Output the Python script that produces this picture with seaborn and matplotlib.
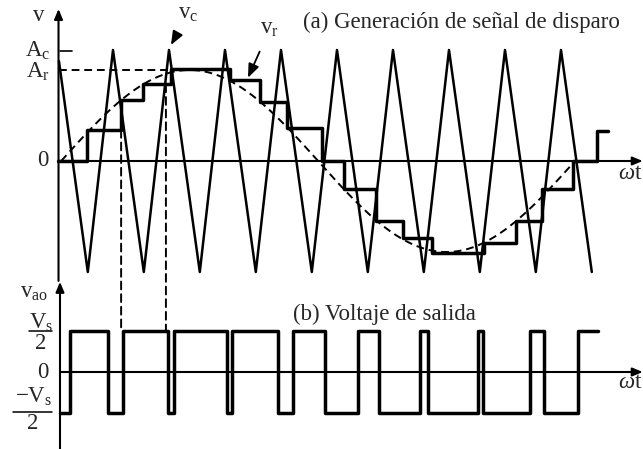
import numpy as np
import matplotlib
matplotlib.use("Agg")
import matplotlib.pyplot as plt
from matplotlib.patches import ConnectionPatch
import seaborn as sns

# ---- signal data (x in carrier half-periods, y per unit of carrier peak) ----
# carrier v_c: triangle vertices
carrier_u = [0.07, 1.1, 2.0, 3.1, 4.0, 5.1, 6.0, 7.1, 8.0, 9.1, 10.0,
             11.1, 12.0, 13.1, 14.0, 15.1, 16.0, 17.1, 18.0, 19.1]
carrier_v = [0.9, -1, 1, -1, 1, -1, 1, -1, 1, -1, 1,
             -1, 1, -1, 1, -1, 1, -1, 1, -1]

# reference v_r: one sine cycle
ref_amplitude = 0.82          # A_r
ref_start, ref_end = 0.15, 18.5

# sampled reference (staircase): step edges and held levels
stair_edges = [0.05, 1.07, 2.29, 3.07, 4.07, 6.18, 7.25, 8.21, 9.46,
               10.25, 11.39, 12.36, 13.39, 15.25, 16.39, 17.32, 18.43, 19.29]
stair_levels = [0.0, 0.28, 0.55, 0.69, 0.83, 0.73, 0.53, 0.30, 0.0,
                -0.25, -0.54, -0.69, -0.83, -0.74, -0.54, -0.25, 0.0, 0.27]
stair_end = 19.68

# output voltage v_ao (units of Vs/2): switching instants and levels
pwm_edges = [0.11, 0.46, 1.82, 2.36, 3.96, 4.18, 6.07, 6.25, 7.89, 8.43,
             9.57, 10.75, 11.50, 12.96, 13.25, 15.04, 15.21, 16.89, 17.39, 18.61]
pwm_levels = [-1, 1, -1, 1, -1, 1, -1, 1, -1, 1,
              -1, 1, -1, 1, -1, 1, -1, 1, -1, 1]
pwm_end = 19.32

# projection lines from the comparison points to the output
proj_u = [2.29, 3.89]
proj_v = [0.28, 0.69]

sns.set_style("white")
plt.rcParams["font.family"] = ["Liberation Serif", "DejaVu Serif"]
plt.rcParams["mathtext.fontset"] = "custom"
plt.rcParams["mathtext.rm"] = "Liberation Serif"
plt.rcParams["mathtext.it"] = "Liberation Serif:italic"

W, H = 643, 449
fig = plt.figure(figsize=(W / 100, H / 100), dpi=100)
top_h = 282 / H
ax_t = fig.add_axes([0, 1 - top_h, 1, top_h])
ax_b = fig.add_axes([0, 0, 1, 1 - top_h])
for ax in (ax_t, ax_b):
    ax.set_axis_off()
    ax.set_xlim(-57 / 28, (643 - 57) / 28)
ax_t.set_ylim((161 - 282) / 111, 161 / 111)
ax_b.set_ylim((372 - 449) / 41, (372 - 282) / 41)

K = "black"
FS = 16.5
dash = (0, (4, 2.5))
arrow_axis = dict(arrowstyle="-|>,head_length=0.6,head_width=0.25",
                  color=K, lw=1.5, shrinkA=0, shrinkB=0)
arrow_lbl = dict(arrowstyle="-|>,head_length=0.5,head_width=0.2",
                 color=K, lw=1.3, shrinkA=7, shrinkB=0)

# ---------- (a) top panel ----------
ax_t.annotate("", xy=(0.054, 1.37), xytext=(0.054, -1.08), arrowprops=arrow_axis)
ax_t.annotate("", xy=(20.92, 0), xytext=(0.054, 0), arrowprops=arrow_axis)
ax_t.plot([0.1, 0.54], [0.99, 0.99], color=K, lw=1.2)
ax_t.plot([0.054, 4.0], [ref_amplitude, ref_amplitude], color=K, lw=1.4, linestyle=dash)

sns.lineplot(x=carrier_u, y=carrier_v, ax=ax_t, color=K, lw=1.8,
             sort=False, estimator=None)

u_ref = np.linspace(ref_start, ref_end, 300)
v_ref = ref_amplitude * np.sin(2 * np.pi * (u_ref - ref_start) / (ref_end - ref_start))
sns.lineplot(x=u_ref, y=v_ref, ax=ax_t, color=K, lw=1.4, linestyle=dash,
             sort=False, estimator=None)

sns.lineplot(x=stair_edges + [stair_end], y=stair_levels + [stair_levels[-1]],
             ax=ax_t, color=K, lw=2.5, drawstyle="steps-post",
             sort=False, estimator=None)

ax_t.text(-0.64, 1.31, "v", fontsize=FS, ha="center", va="center")
ax_t.text(-0.25, 0.99, r"$\mathrm{A_c}$", fontsize=FS, ha="right", va="center")
ax_t.text(-0.25, 0.80, r"$\mathrm{A_r}$", fontsize=FS, ha="right", va="center")
ax_t.text(-0.3, 0.0, "0", fontsize=FS, ha="right", va="center")
ax_t.annotate(r"$\mathrm{v_c}$", xy=(4.07, 1.045), xytext=(4.7, 1.33),
              fontsize=FS, ha="center", va="center", arrowprops=arrow_lbl)
ax_t.annotate(r"$\mathrm{v_r}$", xy=(6.82, 0.75), xytext=(7.6, 1.19),
              fontsize=FS, ha="center", va="center", arrowprops=arrow_lbl)
ax_t.text(8.79, 1.25, "(a) Generación de señal de disparo", fontsize=FS,
          ha="left", va="center")
ax_t.text(20.92, -0.11, r"$\omega$t", fontsize=FS, ha="right", va="center")

# ---------- (b) bottom panel ----------
ax_b.annotate("", xy=(0.107, 2.2), xytext=(0.107, -1.9), arrowprops=arrow_axis)
ax_b.annotate("", xy=(20.92, 0), xytext=(0.107, 0), arrowprops=arrow_axis)

sns.lineplot(x=pwm_edges + [pwm_end], y=pwm_levels + [pwm_levels[-1]],
             ax=ax_b, color=K, lw=2.5, drawstyle="steps-post",
             sort=False, estimator=None)

ax_b.text(-1.32, 1.95, r"$\mathrm{v_{ao}}$", fontsize=FS, ha="left", va="center")
ax_b.plot([-1.0, -0.18], [1, 1], color=K, lw=1.1)
ax_b.text(-0.55, 1.2, r"$\mathrm{V_s}$", fontsize=FS, ha="center", va="center")
ax_b.text(-0.6, 0.7, "2", fontsize=FS, ha="center", va="center")
ax_b.text(-0.3, 0.0, "0", fontsize=FS, ha="right", va="center")
ax_b.plot([-1.57, -0.18], [-0.98, -0.98], color=K, lw=1.1)
ax_b.text(-0.85, -0.6, r"$-\mathrm{V_s}$", fontsize=FS, ha="center", va="center")
ax_b.text(-0.88, -1.25, "2", fontsize=FS, ha="center", va="center")
ax_b.text(8.43, 1.41, "(b) Voltaje de salida", fontsize=FS, ha="left", va="center")
ax_b.text(20.92, -0.26, r"$\omega$t", fontsize=FS, ha="right", va="center")

# dashed projections between panels
for u, v in zip(proj_u, proj_v):
    con = ConnectionPatch(xyA=(u, v), coordsA=ax_t.transData,
                          xyB=(u, 1.0), coordsB=ax_b.transData,
                          color=K, lw=1.4, linestyle=dash)
    fig.add_artist(con)

fig.savefig("out.png", dpi=100, facecolor="white")
